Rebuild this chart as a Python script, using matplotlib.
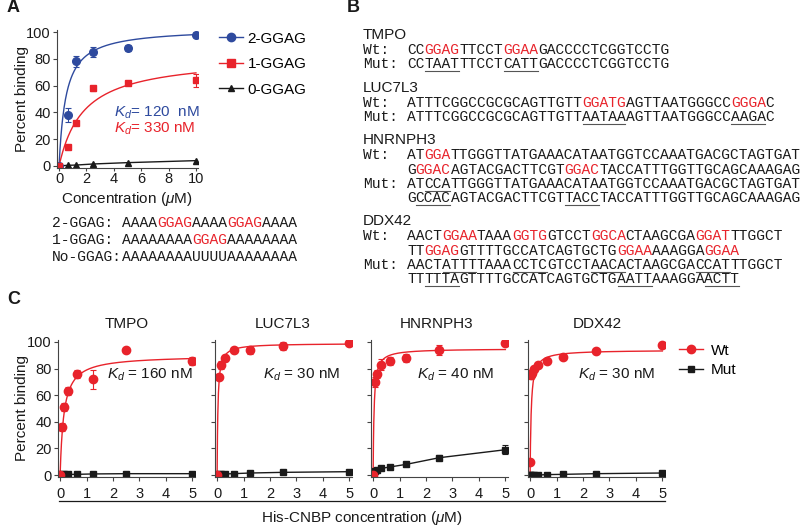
import numpy as np
import matplotlib
matplotlib.use("Agg")
import matplotlib.pyplot as plt
from matplotlib.lines import Line2D

plt.rcParams['font.family'] = 'Liberation Sans'
plt.rcParams['mathtext.fontset'] = 'custom'
plt.rcParams['mathtext.rm'] = 'Liberation Sans'
plt.rcParams['mathtext.it'] = 'Liberation Sans:italic'

RED = '#e8232b'
BLUE = '#2e4a9e'
BLACK = '#1a1a1a'
GRAY = '#444444'

# ---- panel A data
conc_a = [0, 0.625, 1.25, 2.5, 5, 10]
gg2 = [0, 38, 78, 85, 88, 98]
gg2_err = [0, 5, 4, 4, 2, 2]
gg1 = [0, 14, 32, 58, 62, 64]
gg1_err = [0, 1.5, 1.5, 2, 1.5, 5]
gg0 = [0, 0.5, 0.7, 1.5, 2.5, 4]
# hyperbolic fit parameters (Bmax, K in uM)
fit_gg2 = (103, 0.5)
fit_gg1 = (82, 1.8)

seqs_a = [('2-GGAG: ', 'AAAA[GGAG]AAAA[GGAG]AAAA'),
          ('1-GGAG: ', 'AAAAAAAA[GGAG]AAAAAAAA'),
          ('No-GGAG:', 'AAAAAAAAUUUUAAAAAAAA')]

# ---- panel B sequences ([..] red motif, {..} mutated / underlined)
seqs_b = [
    ('TMPO', [('Wt:', ['CC[GGAG]TTCCT[GGAA]GACCCCTCGGTCCTG']),
              ('Mut:', ['CC{TAAT}TTCCT{CATT}GACCCCTCGGTCCTG'])]),
    ('LUC7L3', [('Wt:', ['ATTTCGGCCGCGCAGTTGTT[GGATG]AGTTAATGGGCC[GGGA]C']),
                ('Mut:', ['ATTTCGGCCGCGCAGTTGTT{AATAA}AGTTAATGGGCC{AAGA}C'])]),
    ('HNRNPH3', [('Wt:', ['AT[GGA]TTGGGTTATGAAACATAATGGTCCAAATGACGCTAGTGAT',
                          'G[GGAC]AGTACGACTTCGT[GGAC]TACCATTTGGTTGCAGCAAAGAG']),
                 ('Mut:', ['AT{CCA}TTGGGTTATGAAACATAATGGTCCAAATGACGCTAGTGAT',
                           'G{CCAC}AGTACGACTTCGT{TACC}TACCATTTGGTTGCAGCAAAGAG'])]),
    ('DDX42', [('Wt:', ['AACT[GGAA]TAAA[GGTG]GTCCT[GGCA]CTAAGCGA[GGAT]TTGGCT',
                        'TT[GGAG]GTTTTGCCATCAGTGCTG[GGAA]AAAGGA[GGAA]']),
               ('Mut:', ['AACT{ATTT}TAAA{CCTC}GTCCT{AACA}CTAAGCGA{CCAT}TTGGCT',
                         'TT{TTTA}GTTTTGCCATCAGTGCTG{AATT}AAAGGA{ACTT}'])]),
]

# ---- panel C data
genes = ['TMPO', 'LUC7L3', 'HNRNPH3', 'DDX42']
conc8 = [0, 0.078, 0.156, 0.3125, 0.625, 1.25, 2.5, 5]
conc9 = [0, 0.039, 0.078, 0.156, 0.3125, 0.625, 1.25, 2.5, 5]
conc_c = [conc8, conc8, conc8, conc9]
wt_c = [[0, 36, 51, 63, 76, 72, 94, 86],
        [0, 74, 83, 88, 94, 94, 97, 99],
        [0, 70, 76, 83, 86, 88, 94, 99],
        [10, 75, 77, 80, 83, 86, 89, 93, 98]]
wt_err = [[0, 3, 3, 3, 3, 7, 1, 3],
          [0, 2, 3, 2, 1, 3, 3, 1],
          [0, 4, 3, 4, 3, 3, 4, 1],
          [0, 3, 2, 2, 2, 2, 2, 2, 2]]
mut_c = [[0, 0.5, 0.5, 0.5, 0.5, 0.8, 1, 1],
         [0, 0.5, 0.5, 0.8, 1, 1.5, 2, 2.5],
         [0, 3, 4, 5, 6, 8, 13, 19],
         [0, 0, 0, 0, 0, 0.3, 0.5, 1, 1.5]]
mut_err = [[0, 0, 0, 0, 0, 0, 0, 0.5],
           [0, 0, 0, 0, 0, 0, 0, 1],
           [0, 1, 1, 1, 1, 1, 2, 3.5],
           [0, 0, 0, 0, 0, 0, 0, 0, 0.5]]
fit_c = [(90, 0.14), (99, 0.03), (95, 0.035), (94, 0.04)]
kd_c = ['160', '30', '40', '30']

W, H = 800, 526
fig = plt.figure(figsize=(W / 100, H / 100), dpi=100)


def box(l, t, r, b):
    return [l / W, 1 - b / H, (r - l) / W, (b - t) / H]


def ftext(x, y, s, **kw):
    kw.setdefault('color', BLACK)
    return fig.text(x / W, 1 - y / H, s, **kw)


def style_axes(ax):
    for side in ['top', 'right']:
        ax.spines[side].set_visible(False)
    for side in ['left', 'bottom']:
        ax.spines[side].set_color(GRAY)
        ax.spines[side].set_linewidth(0.8)
    ax.tick_params(colors=GRAY, labelcolor=BLACK, labelsize=10.5,
                   length=3, width=0.8, pad=1.5)


def hyper(p, xs):
    return p[0] * xs / (p[1] + xs)


# ================= panel A
ax = fig.add_axes(box(57, 30, 198, 168))
style_axes(ax)
xs = np.linspace(0, 10, 300)
ax.plot(xs, hyper(fit_gg2, xs), color=BLUE, lw=1)
ax.plot(xs, hyper(fit_gg1, xs), color=RED, lw=1)
ax.plot(conc_a, gg0, color=BLACK, lw=1, marker='^', ms=4)
ax.errorbar(conc_a, gg2, yerr=gg2_err, fmt='o', color=BLUE, ms=5.5,
            capsize=2, elinewidth=0.8, capthick=0.8)
ax.errorbar(conc_a, gg1, yerr=gg1_err, fmt='s', color=RED, ms=5,
            capsize=2, elinewidth=0.8, capthick=0.8)
ax.set_xlim(-0.15, 10.15)
ax.set_ylim(-1.5, 101.5)
ax.set_xticks([0, 2, 4, 6, 8, 10])
ax.set_yticks([0, 20, 40, 60, 80, 100])
ax.tick_params(axis='x', length=2, pad=1)
ax.text(4.0, 40, r'$K_d$= 120  nM', color=BLUE, fontsize=11, va='center')
ax.text(4.0, 28, r'$K_d$= 330 nM', color=RED, fontsize=11, va='center')
ftext(22, 99, 'Percent binding', rotation=90, fontsize=11,
      ha='center', va='center')
ftext(127, 199, r'Concentration ($\mu$M)', fontsize=11,
      ha='center', va='center')

handles = [Line2D([], [], color=BLUE, marker='o', ms=6, lw=1),
           Line2D([], [], color=RED, marker='s', ms=6, lw=1),
           Line2D([], [], color=BLACK, marker='^', ms=5, lw=1)]
fig.legend(handles, ['2-GGAG', '1-GGAG', '0-GGAG'], loc='upper left',
           bbox_to_anchor=(211 / W, 1 - 24 / H), frameon=False,
           fontsize=11, handlelength=1.6, handletextpad=0.3,
           labelspacing=0.75, borderpad=0)

ftext(7, 8, 'A', fontsize=13, fontweight='bold', va='center')
ftext(347, 8, 'B', fontsize=13, fontweight='bold', va='center')
ftext(7, 300, 'C', fontsize=13, fontweight='bold', va='center')

# ================= sequences
CW = 8.75   # pixel width of one mono character at 10.5 pt
MONO = dict(fontfamily='Liberation Mono', fontsize=10.5, va='center')


def draw_seq(x, y, s):
    col = 0
    red = under = False
    buf = ''
    parts = []
    for ch in s:
        if ch in '[]{}':
            if buf:
                parts.append((buf, red, under))
                buf = ''
            if ch == '[':
                red = True
            elif ch == ']':
                red = False
            elif ch == '{':
                under = True
            else:
                under = False
        else:
            buf += ch
    if buf:
        parts.append((buf, red, under))
    for txt, r, u in parts:
        x0 = x + col * CW
        ftext(x0, y, txt, color=RED if r else BLACK, **MONO)
        if u:
            fig.add_artist(Line2D([(x0 + 0.5) / W, (x0 + len(txt) * CW - 0.5) / W],
                                  [1 - (y + 7) / H] * 2, color='#555555', lw=0.8))
        col += len(txt)


for i, (lab, s) in enumerate(seqs_a):
    y = 223 + 17 * i
    ftext(52, y, lab, **MONO)
    draw_seq(52 + 8 * CW, y, s)

y = 35
for gene, rows in seqs_b:
    ftext(363, y, gene, fontsize=11, va='center')
    y += 15
    for lab, lines in rows:
        ftext(363, y, lab, **MONO)
        for ln in lines:
            draw_seq(407, y, ln)
            y += 14.3
    y += 9

# ================= panel C
lefts = [58, 215, 371, 528]
titles_x = [127, 283, 437, 597]
kd_x = [107, 263, 417, 578]
for i, g in enumerate(genes):
    l = lefts[i]
    ax = fig.add_axes(box(l, 340, l + 137, 477))
    style_axes(ax)
    ax.tick_params(axis='x', pad=4)
    xs = np.linspace(0, 5, 400)
    ax.plot(xs, hyper(fit_c[i], xs), color=RED, lw=1)
    ax.plot(conc_c[i], mut_c[i], color=BLACK, lw=1)
    ax.errorbar(conc_c[i], mut_c[i], yerr=mut_err[i], fmt='s', color=BLACK,
                ms=3.8, capsize=2, elinewidth=0.8, capthick=0.8)
    ax.errorbar(conc_c[i], wt_c[i], yerr=wt_err[i], fmt='o', color=RED,
                ms=6, capsize=2, elinewidth=0.8, capthick=0.8)
    ax.set_xlim(-0.08, 5.1)
    ax.set_ylim(-1.5, 101.5)
    ax.set_xticks([0, 1, 2, 3, 4, 5])
    ax.set_yticks([0, 20, 40, 60, 80, 100])
    if i > 0:
        ax.set_yticklabels([])
    ftext(titles_x[i], 324, g, fontsize=11, ha='center', va='center')
    ftext(kd_x[i], 375, r'$K_d$ = %s nM' % kd_c[i], fontsize=11, va='center')

ftext(22, 408, 'Percent binding', rotation=90, fontsize=11,
      ha='center', va='center')
fig.add_artist(Line2D([59 / W, 665 / W], [1 - 501 / H] * 2, color=BLACK, lw=0.9))
ftext(362, 518, r'His-CNBP concentration ($\mu$M)', fontsize=11,
      ha='center', va='center')

hc = [Line2D([], [], color=RED, marker='o', ms=6, lw=1),
      Line2D([], [], color=BLACK, marker='s', ms=4, lw=1)]
fig.legend(hc, ['Wt', 'Mut'], loc='upper left',
           bbox_to_anchor=(671 / W, 1 - 336 / H), frameon=False,
           fontsize=11, handlelength=1.6, handletextpad=0.5,
           labelspacing=0.35, borderpad=0)

fig.savefig('out.png', dpi=100)
